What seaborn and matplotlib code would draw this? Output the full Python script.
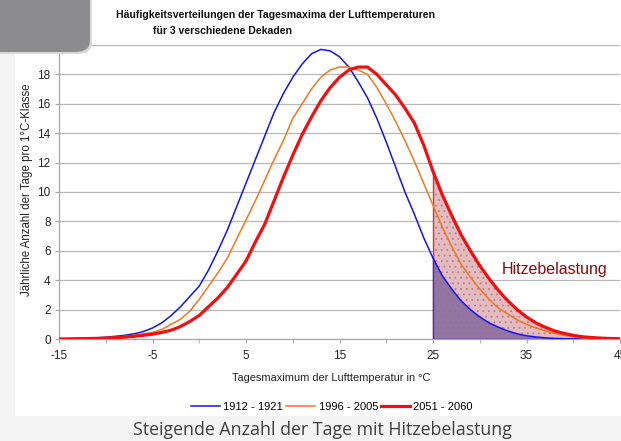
import numpy as np
import pandas as pd
import matplotlib
matplotlib.use("Agg")
import matplotlib.pyplot as plt
from matplotlib.patches import FancyBboxPatch, Rectangle
import seaborn as sns

plt.rcParams["axes.unicode_minus"] = False
plt.rcParams["hatch.linewidth"] = 0.6

# Tagesmaximum der Lufttemperatur (°C), 1°C-Klassen
temps = list(range(-15, 46))

# 1912 - 1921
blue = [0.0, 0.02, 0.03, 0.05, 0.08, 0.12, 0.18, 0.25, 0.35, 0.5,
        0.75, 1.1, 1.6, 2.2, 2.9, 3.6, 4.7, 6.0, 7.4, 9.0,
        10.6, 12.2, 13.8, 15.4, 16.7, 17.8, 18.7, 19.4, 19.7, 19.6,
        19.2, 18.5, 17.5, 16.4, 15.0, 13.4, 11.7, 10.0, 8.5, 6.9,
        5.5, 4.3, 3.4, 2.6, 2.0, 1.5, 1.1, 0.8, 0.55, 0.35,
        0.22, 0.14, 0.08, 0.04, 0.02, 0.01, 0.0, np.nan, np.nan, np.nan, np.nan]
# 1996 - 2005
orange = [0.0, 0.01, 0.02, 0.03, 0.05, 0.08, 0.12, 0.17, 0.25, 0.35,
          0.45, 0.65, 1.0, 1.35, 1.9, 2.7, 3.6, 4.5, 5.5, 6.8,
          8.1, 9.4, 10.8, 12.2, 13.5, 15.0, 16.0, 17.0, 17.8, 18.3,
          18.5, 18.5, 18.3, 18.0, 17.1, 16.0, 14.8, 13.5, 12.1, 10.6,
          9.1, 7.6, 6.3, 5.1, 4.2, 3.4, 2.7, 2.1, 1.7, 1.3,
          1.0, 0.75, 0.55, 0.38, 0.25, 0.15, 0.08, 0.04, np.nan, np.nan, np.nan]
# 2051 - 2060
red = [0.0, 0.01, 0.02, 0.03, 0.04, 0.06, 0.09, 0.13, 0.18, 0.25,
       0.33, 0.45, 0.6, 0.85, 1.2, 1.6, 2.2, 2.8, 3.5, 4.4,
       5.3, 6.6, 7.8, 9.4, 11.0, 12.5, 13.9, 15.1, 16.2, 17.1,
       17.8, 18.3, 18.5, 18.5, 18.0, 17.3, 16.6, 15.7, 14.7, 13.2,
       11.4, 9.8, 8.4, 7.1, 6.0, 5.0, 4.1, 3.3, 2.6, 2.0,
       1.5, 1.1, 0.8, 0.55, 0.38, 0.25, 0.15, 0.1, 0.06, 0.03, 0.02]

labels = ["1912 - 1921", "1996 - 2005", "2051 - 2060"]
colors = ["#1414f0", "#f07820", "#f01010"]
widths = [1.1, 1.1, 2.3]

df = pd.DataFrame({"temp": temps, labels[0]: blue, labels[1]: orange, labels[2]: red})
long = df.melt(id_vars="temp", var_name="Dekade", value_name="tage")

W, H = 621, 441
fig = plt.figure(figsize=(W / 100, H / 100), dpi=100, facecolor="#f4f4f4")

# white chart area on the slide
fig.patches.append(Rectangle((15 / W, 1 - 416 / H), 1, 416 / H, transform=fig.transFigure,
                             facecolor="white", edgecolor="none", zorder=-5))

ax = fig.add_axes([59 / W, 1 - 339 / H, 561 / W, 294 / H])
ax.set_facecolor("white")

# shaded heat area (>= 25 °C)
hot = df[(df.temp >= 25) & (df.temp <= 42)]
ax.fill_between(hot.temp, 0, hot[labels[2]], facecolor="#e2bcc0", edgecolor="#c27c84",
                hatch="...", linewidth=0, zorder=2)
ax.plot([25, 25, 42], [hot[labels[2]].iloc[0], 0, 0], color="#e03030", lw=1.0, zorder=3)
hot_b = hot.dropna(subset=[labels[0]])
ax.fill_between(hot_b.temp, 0, hot_b[labels[0]], facecolor="#8e6fa0", edgecolor="none",
                alpha=0.92, zorder=3)
ax.plot([25, 25, 40], [hot_b[labels[0]].iloc[0], 0, 0], color="#3030e0", lw=1.0, zorder=3)

sns.lineplot(data=long, x="temp", y="tage", hue="Dekade", palette=colors,
             size="Dekade", sizes=dict(zip(labels, widths)), ax=ax, zorder=4, legend=False)

ax.set_xlim(-15, 45)
ax.set_ylim(0, 20)
ax.set_yticks(range(0, 21, 2))
ax.set_xticks(range(-15, 46, 10))
ax.set_xticks(range(-10, 45, 10), minor=True)
ax.grid(axis="y", color="#b8b8b8", lw=0.9, zorder=1)
ax.grid(axis="x", visible=False)
ax.set_axisbelow(True)
for s in ["top", "right"]:
    ax.spines[s].set_visible(False)
for s in ["left", "bottom"]:
    ax.spines[s].set_color("#a8a8a8")
    ax.spines[s].set_linewidth(0.9)
ax.tick_params(axis="both", which="both", colors="#a8a8a8", labelcolor="#222222",
               labelsize=8.5, length=3)
ax.tick_params(axis="x", pad=5)
ax.tick_params(axis="y", pad=3)
for t in ax.get_xticklabels() + ax.get_yticklabels():
    t.set_family("Liberation Sans")

ax.set_xlabel("Tagesmaximum der Lufttemperatur in °C", fontsize=7.9,
              family="Liberation Sans", color="#222222", va="center")
ax.xaxis.set_label_coords(272 / 561, -39 / 294)
ax.set_ylabel("Jährliche Anzahl der Tage pro 1°C-Klasse", fontsize=8.3,
              family="Liberation Sans", color="#222222", va="center")
ax.yaxis.set_label_coords(-32 / 561, 149 / 294)

ax.text(38.0, 4.7, "Hitzebelastung", fontsize=11.5, family="Liberation Sans",
        color="#8b0a0a", ha="center", va="center", zorder=6)

# title
fig.text(276 / W, 1 - 15 / H, "Häufigkeitsverteilungen der Tagesmaxima der Lufttemperaturen",
         fontsize=7.6, weight="bold", family="Liberation Sans",
         ha="center", va="center", color="#111111")
fig.text(153 / W, 1 - 31 / H, "für 3 verschiedene Dekaden",
         fontsize=7.6, weight="bold", family="Liberation Sans",
         ha="left", va="center", color="#111111")

# legend
handles = [plt.Line2D([], [], color=c, lw=w) for c, w in zip(colors, widths)]
fig.legend(handles, labels, loc="center", bbox_to_anchor=(332 / W, 1 - 407 / H), ncol=3,
           frameon=False, handlelength=2.6, handletextpad=0.3,
           columnspacing=0.3, prop={"family": "Liberation Sans", "size": 8})

# caption of the slide
fig.text(322 / W, 1 - 430 / H, "Steigende Anzahl der Tage mit Hitzebelastung",
         fontsize=12.8, family="Open Sans", color="#404040", ha="center", va="center")

# dark box in the corner of the slide
fig.patches.append(FancyBboxPatch((-20 / W, 1 - 54 / H), 112 / W, 80 / H,
                                  boxstyle="round,pad=0,rounding_size=0.025",
                                  transform=fig.transFigure, facecolor="#d8d8d8",
                                  edgecolor="none", zorder=9))
fig.patches.append(FancyBboxPatch((-20 / W, 1 - 52 / H), 110 / W, 80 / H,
                                  boxstyle="round,pad=0,rounding_size=0.025",
                                  transform=fig.transFigure, facecolor="#8c8c8e",
                                  edgecolor="none", zorder=10))

fig.savefig("out.png", dpi=100, facecolor=fig.get_facecolor())
